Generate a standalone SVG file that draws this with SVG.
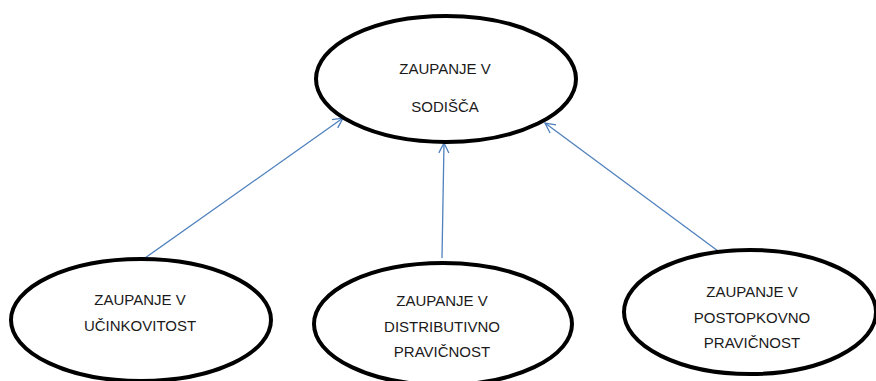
<svg xmlns="http://www.w3.org/2000/svg" width="876" height="381" viewBox="0 0 876 381">
  <style>
    .node ellipse { fill: #ffffff; stroke: #000000; stroke-width: 4; }
    .node text { font-family: "Liberation Sans", Arial, sans-serif; font-size: 15px; fill: #1a1a1a; text-anchor: middle; }
    .edge { stroke: #4f81bd; stroke-width: 1.3; fill: none; marker-end: url(#openArrow); }
  </style>
  <defs>
    <marker id="openArrow" viewBox="0 0 12 12" refX="11" refY="6" markerWidth="12" markerHeight="12" markerUnits="userSpaceOnUse" orient="auto">
      <path d="M1,1 L11,6 L1,11" fill="none" stroke="#4f81bd" stroke-width="1.3"/>
    </marker>
  </defs>
  <rect width="876" height="381" fill="#ffffff"/>

  <g id="connectors">
    <line class="edge" x1="145" y1="258" x2="343" y2="118"/>
    <line class="edge" x1="442" y1="258" x2="444" y2="143"/>
    <line class="edge" x1="718" y1="251" x2="545" y2="123"/>
  </g>

  <g id="node-sodisca" class="node">
    <ellipse cx="446" cy="79" rx="130" ry="63"/>
    <text x="445" y="74">ZAUPANJE V</text>
    <text x="445" y="112">SODIŠČA</text>
  </g>

  <g id="node-ucinkovitost" class="node">
    <ellipse cx="141" cy="320" rx="130" ry="61"/>
    <text x="140" y="305">ZAUPANJE V</text>
    <text x="140" y="331">UČINKOVITOST</text>
  </g>

  <g id="node-distributivno" class="node">
    <ellipse cx="443" cy="324" rx="129" ry="61"/>
    <text x="442" y="306">ZAUPANJE V</text>
    <text x="442" y="332">DISTRIBUTIVNO</text>
    <text x="442" y="357">PRAVIČNOST</text>
  </g>

  <g id="node-postopkovno" class="node">
    <ellipse cx="750" cy="312" rx="126" ry="62"/>
    <text x="752" y="297">ZAUPANJE V</text>
    <text x="752" y="323">POSTOPKOVNO</text>
    <text x="752" y="348">PRAVIČNOST</text>
  </g>
</svg>
